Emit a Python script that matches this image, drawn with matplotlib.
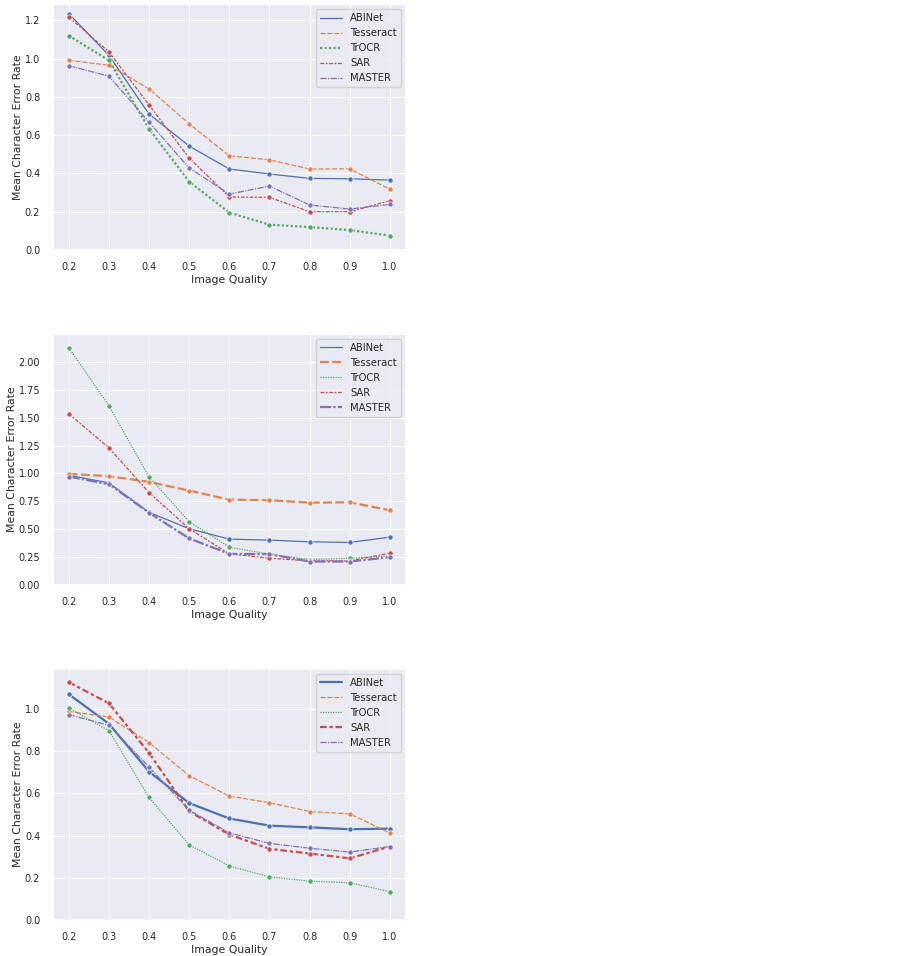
import matplotlib
matplotlib.use("Agg")
import matplotlib.pyplot as plt
from matplotlib.lines import Line2D
import seaborn as sns
import numpy as np

quality = [0.2, 0.3, 0.4, 0.5, 0.6, 0.7, 0.8, 0.9, 1.0]
models = ["ABINet", "Tesseract", "TrOCR", "SAR", "MASTER"]

# Panel 1
p1_abinet = [1.235, 1.017, 0.710, 0.543, 0.423, 0.397, 0.374, 0.372, 0.365]
p1_tesseract = [0.991, 0.965, 0.842, 0.659, 0.492, 0.471, 0.423, 0.424, 0.317]
p1_trocr = [1.120, 0.990, 0.633, 0.357, 0.195, 0.132, 0.120, 0.104, 0.075]
p1_sar = [1.217, 1.035, 0.758, 0.480, 0.277, 0.275, 0.200, 0.200, 0.257]
p1_master = [0.963, 0.908, 0.668, 0.428, 0.292, 0.334, 0.235, 0.214, 0.238]

# Panel 2
p2_abinet = [0.983, 0.915, 0.651, 0.504, 0.411, 0.402, 0.387, 0.381, 0.429]
p2_tesseract = [0.996, 0.975, 0.924, 0.846, 0.765, 0.759, 0.738, 0.741, 0.669]
p2_trocr = [2.126, 1.607, 0.969, 0.567, 0.339, 0.276, 0.228, 0.240, 0.260]
p2_sar = [1.535, 1.229, 0.828, 0.504, 0.279, 0.240, 0.216, 0.216, 0.285]
p2_master = [0.972, 0.903, 0.648, 0.417, 0.279, 0.276, 0.210, 0.210, 0.249]

# Panel 3
p3_abinet = [1.070, 0.930, 0.703, 0.554, 0.481, 0.447, 0.439, 0.430, 0.433]
p3_tesseract = [0.989, 0.962, 0.841, 0.684, 0.587, 0.556, 0.514, 0.503, 0.412]
p3_trocr = [1.005, 0.897, 0.581, 0.356, 0.256, 0.204, 0.184, 0.176, 0.134]
p3_sar = [1.127, 1.027, 0.792, 0.515, 0.405, 0.337, 0.315, 0.292, 0.348]
p3_master = [0.973, 0.923, 0.725, 0.520, 0.413, 0.363, 0.340, 0.322, 0.348]

panels = [
    [p1_abinet, p1_tesseract, p1_trocr, p1_sar, p1_master],
    [p2_abinet, p2_tesseract, p2_trocr, p2_sar, p2_master],
    [p3_abinet, p3_tesseract, p3_trocr, p3_sar, p3_master],
]
thick = [["TrOCR"], ["Tesseract", "MASTER"], ["ABINet", "SAR"]]
ylims = [(0, 1.285), (0, 2.25), (0, 1.19)]
yticks = [np.arange(0, 1.21, 0.2), np.arange(0, 2.01, 0.25), np.arange(0, 1.01, 0.2)]
yfmt = ["{:.1f}", "{:.2f}", "{:.1f}"]

sns.set_theme(style="darkgrid")
plt.rcParams['font.family'] = ['DejaVu Sans']
colors = sns.color_palette("deep")
dashes = [(None, None), (4, 1.5), (1, 1), (3, 1.25, 1.5, 1.25), (5, 1, 1, 1)]

fig = plt.figure(figsize=(9.01, 9.56), dpi=100)
positions = [
    [0.0585, 0.7385, 0.392, 0.2573],
    [0.0585, 0.3881, 0.392, 0.2626],
    [0.0585, 0.0377, 0.392, 0.2626],
]

for i, series in enumerate(panels):
    ax = fig.add_axes(positions[i])
    handles = []
    for j, (name, vals) in enumerate(zip(models, series)):
        lw = 1.6 if name in thick[i] else 0.9
        line, = ax.plot(quality, vals, color=colors[j], lw=lw,
                        marker='o', markersize=3.8, markeredgecolor='white',
                        markeredgewidth=0.5)
        h = Line2D([], [], color=colors[j], lw=lw, label=name)
        if j > 0:
            line.set_dashes(dashes[j])
            h.set_dashes(dashes[j])
        handles.append(h)
    ax.set_xlim(0.16, 1.04)
    ax.set_ylim(*ylims[i])
    ax.set_xticks(quality)
    ax.set_xticklabels(["{:.1f}".format(q) for q in quality])
    ax.set_yticks(yticks[i])
    ax.set_yticklabels([yfmt[i].format(v) for v in yticks[i]])
    ax.tick_params(labelsize=7, pad=3)
    ax.grid(True, color='white', lw=0.8)
    ax.set_xlabel("Image Quality", fontsize=7.8, labelpad=2)
    ax.set_ylabel("Mean Character Error Rate", fontsize=7.8, labelpad=1.5)
    ax.legend(handles=handles, loc='upper right', fontsize=7.2, handlelength=2.2)

fig.savefig("out.png", dpi=100)
